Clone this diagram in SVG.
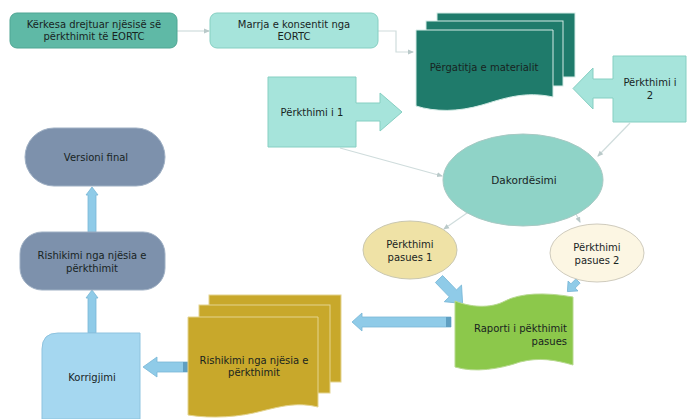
<svg xmlns="http://www.w3.org/2000/svg" width="690" height="419" viewBox="0 0 690 419">
<defs>
<marker id="ah" viewBox="0 0 6 6" refX="5" refY="3" markerWidth="6" markerHeight="6" orient="auto" markerUnits="userSpaceOnUse">
<path d="M0,0.5 L6,3 L0,5.5 Z" fill="#b9c9c9"/>
</marker>
<style>
text{font-family:"DejaVu Sans","Liberation Sans",sans-serif;font-size:10px;fill:#18241f;text-anchor:middle}
.con{fill:none;stroke:#cfdcdc;stroke-width:1.2;marker-end:url(#ah)}
.blk{fill:#8fcbe8;stroke:#78b6d6;stroke-width:0.8}
.aqua{fill:#a6e4db;stroke:#86cfc2;stroke-width:1}
.slate{fill:#7d91ac;stroke:#9fb0c4;stroke-width:1}
.dteal{fill:#1f7b6b;stroke:#d4ebe6;stroke-width:1}
.ylw{fill:#c8a82b;stroke:#e4d490;stroke-width:1}
</style>
</defs>
<rect width="690" height="419" fill="#ffffff"/>

<g id="connectors">
<path class="con" d="M177,31 H209"/>
<path class="con" d="M378,31 H396 V52 H413"/>
<path class="con" d="M340,148 L442,176"/>
<path class="con" d="M630,123 L598,156"/>
<path class="con" d="M467,213 L444,229"/>
<path class="con" d="M575,212 L580,222"/>
<g id="arrow-p1-raporti" transform="translate(439,279) rotate(46)"><path class="blk" d="M0,-5 H20 V-12 L34,0 L20,12 V5 H0 Z"/></g>
<g id="arrow-p2-raporti" transform="translate(578,281) rotate(135)"><path class="blk" d="M0,-3 H7 V-7 L15,0 L7,7 V3 H0 Z"/></g>
<path class="blk" d="M451,317 V327 H362 V331 L352,322 L362,313 V317 Z"/>
<rect x="446" y="317" width="5" height="10" fill="#5f9fc2"/>
<path class="blk" d="M188,362 V372 H157 V377 L143,367 L157,357 V362 Z"/>
<rect x="183" y="362" width="5" height="10" fill="#5f9fc2"/>
<path class="blk" d="M88,333 V298 H86 L92,290 L98,298 H96 V333 Z"/>
<path class="blk" d="M88,232 V195 H86 L92,187 L98,195 H96 V232 Z"/>
</g>

<g id="n-kerkesa">
<rect x="10" y="13" width="167" height="35" rx="7" fill="#5fb9a6" stroke="#4fa593" stroke-width="1"/>
<text x="94" y="28">Kërkesa drejtuar njësisë së</text>
<text x="94" y="40">përkthimit të EORTC</text>
</g>

<g id="n-marrja">
<rect x="210" y="13" width="168" height="35" rx="7" class="aqua"/>
<text x="294" y="28">Marrja e konsentit nga</text>
<text x="294" y="40">EORTC</text>
</g>

<g id="n-pergatitja">
<rect x="437" y="13" width="138" height="64" class="dteal"/>
<rect x="426" y="21" width="137" height="65" class="dteal"/>
<path class="dteal" d="M416,30 H553 V97 C525,91 505,98 482,105 C458,112 435,112 416,106 Z"/>
<text x="484" y="71">Përgatitja e materialit</text>
</g>

<g id="n-perkthimi1">
<path class="aqua" d="M268,77 H356 V103 H380 V93 L402,112 L380,131 V121 H356 V147 H268 Z"/>
<text x="312" y="116">Përkthimi i 1</text>
</g>

<g id="n-perkthimi2">
<path class="aqua" d="M686,56 V122 H613 V98 H593 V109 L573,88.5 L593,68 V79 H613 V56 Z"/>
<text x="650" y="86">Përkthimi i</text>
<text x="650" y="99">2</text>
</g>

<g id="n-dakordesimi">
<ellipse cx="523" cy="180" rx="80" ry="46" fill="#8fd3c7" stroke="#a7c9c3" stroke-width="1"/>
<text x="524" y="184" style="font-size:10.5px">Dakordësimi</text>
</g>

<g id="n-pasues1">
<ellipse cx="410" cy="250" rx="47" ry="29" fill="#efe2a6" stroke="#c9c7b0" stroke-width="1"/>
<text x="410" y="248">Përkthimi</text>
<text x="410" y="261">pasues 1</text>
</g>

<g id="n-pasues2">
<ellipse cx="597" cy="253" rx="47" ry="29" fill="#fcf6e3" stroke="#cfcbbd" stroke-width="1"/>
<text x="597" y="251">Përkthimi</text>
<text x="597" y="264">pasues 2</text>
</g>

<g id="n-raporti">
<path d="M455,301 C470,307 490,309 505,301 C520,293 545,292 573,297 V365 C555,360 540,357 520,362 C500,369 475,373 455,367 Z" fill="#8cc84b" stroke="#b7d98f" stroke-width="1"/>
<text x="567" y="332" style="text-anchor:end">Raporti i pëkthimit</text>
<text x="567" y="345" style="text-anchor:end">pasues</text>
</g>

<g id="n-rishikimi-doc">
<rect x="209" y="295" width="132" height="87" class="ylw"/>
<rect x="199" y="305" width="131" height="88" class="ylw"/>
<path class="ylw" d="M188,317 H318 V407 C298,402 282,406 262,411 C240,417 212,419 188,415 Z"/>
<text x="254" y="364">Rishikimi nga njësia e</text>
<text x="254" y="376">përkthimit</text>
</g>

<g id="n-korrigjimi">
<path d="M42,349 Q42,333 58,333 H140 V419 H42 Z" fill="#a5d7f0" stroke="#8ec3df" stroke-width="1"/>
<text x="92" y="381">Korrigjimi</text>
</g>

<g id="n-rishikimi">
<rect x="20" y="232" width="145" height="58" rx="22" class="slate"/>
<text x="92" y="259">Rishikimi nga njësia e</text>
<text x="92" y="272">përkthimit</text>
</g>

<g id="n-versioni">
<rect x="25" y="128" width="140" height="58" rx="29" class="slate"/>
<text x="96" y="161">Versioni final</text>
</g>
</svg>
